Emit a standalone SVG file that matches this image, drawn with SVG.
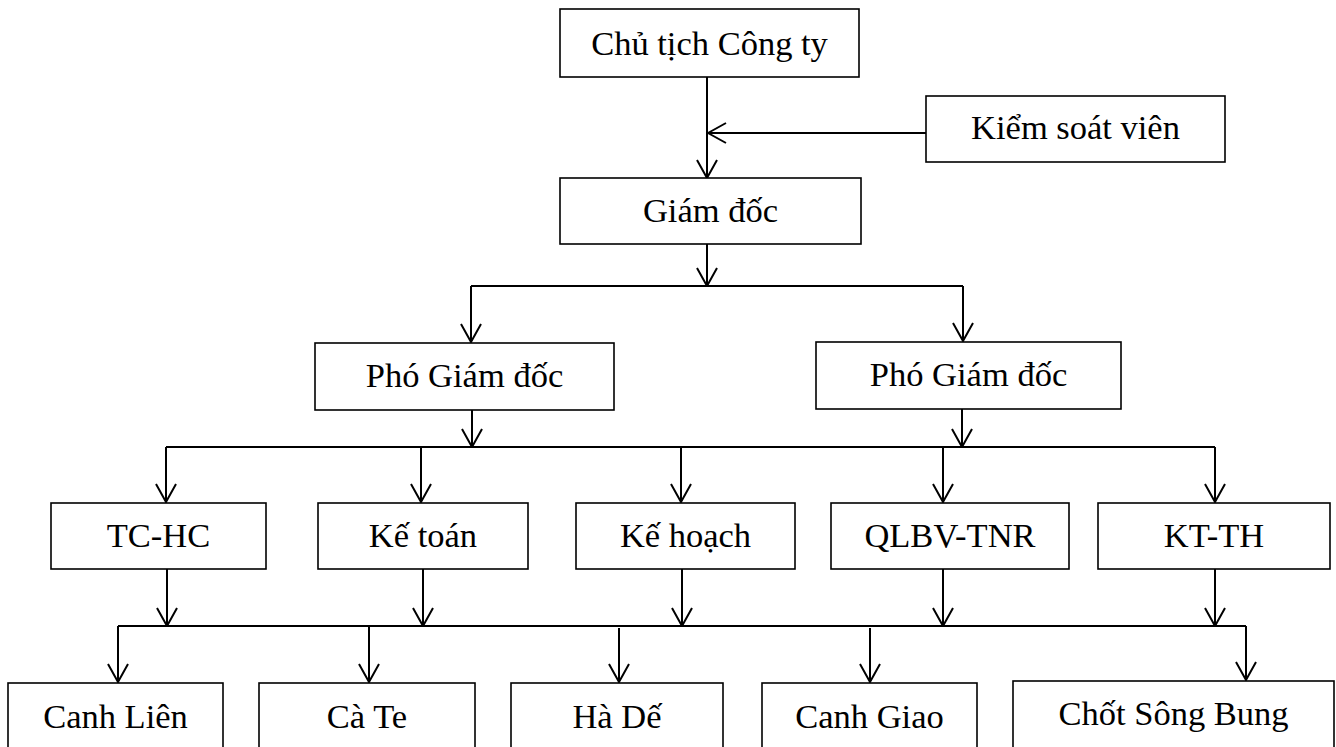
<svg xmlns="http://www.w3.org/2000/svg" width="1336" height="747" viewBox="0 0 1336 747">
<style>
.box{fill:#fff;stroke:#000;stroke-width:1.6}
.lbl{font-size:34.5px;fill:#000;text-anchor:middle}
.ln{fill:none;stroke:#000;stroke-width:2}
.ar{fill:none;stroke:#000;stroke-width:2;marker-end:url(#arr)}
</style>
<defs>
<marker id="arr" markerUnits="userSpaceOnUse" viewBox="0 0 20 24" markerWidth="20" markerHeight="24" refX="19" refY="12" orient="auto">
<path d="M1,2 L19,12 L1,22" fill="none" stroke="#000" stroke-width="2"/>
</marker>
</defs>
<rect width="1336" height="747" fill="#fff"/>
<g id="connectors">
<path class="ar" d="M707,77 V178"/>
<path class="ar" d="M927,133 H708"/>
<path class="ar" d="M707,244 V286"/>
<path class="ln" d="M471,286 H963"/>
<path class="ar" d="M471,286 V342"/>
<path class="ar" d="M963,286 V341"/>
<path class="ar" d="M472,410 V447"/>
<path class="ar" d="M962,409 V447"/>
<path class="ln" d="M166,447 H1215"/>
<path class="ar" d="M166,447 V502"/>
<path class="ar" d="M421,447 V502"/>
<path class="ar" d="M681,447 V502"/>
<path class="ar" d="M943,447 V502"/>
<path class="ar" d="M1215,447 V502"/>
<path class="ar" d="M167,569 V626"/>
<path class="ar" d="M423,569 V626"/>
<path class="ar" d="M682,569 V626"/>
<path class="ar" d="M943,569 V626"/>
<path class="ar" d="M1215,569 V626"/>
<path class="ln" d="M118,626 H1246"/>
<path class="ar" d="M118,626 V682"/>
<path class="ar" d="M369,626 V682"/>
<path class="ar" d="M619,628 V682"/>
<path class="ar" d="M870,628 V682"/>
<path class="ar" d="M1246,626 V680"/>
</g>
<g font-family="Liberation Serif, Times New Roman, serif">
<g id="chu-tich"><rect class="box" x="560" y="9" width="299" height="68"/><text class="lbl" x="709.5" y="55">Chủ tịch Công ty</text></g>
<g id="kiem-soat"><rect class="box" x="926" y="96" width="299" height="66"/><text class="lbl" x="1075.5" y="139">Kiểm soát viên</text></g>
<g id="giam-doc"><rect class="box" x="560" y="178" width="301" height="66"/><text class="lbl" x="710.5" y="222">Giám đốc</text></g>
<g id="pgd-1"><rect class="box" x="315" y="343" width="299" height="67"/><text class="lbl" x="464.5" y="387">Phó Giám đốc</text></g>
<g id="pgd-2"><rect class="box" x="816" y="342" width="305" height="67"/><text class="lbl" x="968.5" y="386">Phó Giám đốc</text></g>
<g id="tc-hc"><rect class="box" x="51" y="503" width="215" height="66"/><text class="lbl" x="158.5" y="547">TC-HC</text></g>
<g id="ke-toan"><rect class="box" x="318" y="503" width="210" height="66"/><text class="lbl" x="423" y="547">Kế toán</text></g>
<g id="ke-hoach"><rect class="box" x="576" y="503" width="219" height="66"/><text class="lbl" x="685.5" y="547">Kế hoạch</text></g>
<g id="qlbv-tnr"><rect class="box" x="831" y="503" width="238" height="66"/><text class="lbl" x="950" y="547">QLBV-TNR</text></g>
<g id="kt-th"><rect class="box" x="1098" y="503" width="232" height="66"/><text class="lbl" x="1214" y="547">KT-TH</text></g>
<g id="canh-lien"><rect class="box" x="8" y="683" width="215" height="80"/><text class="lbl" x="115.5" y="728">Canh Liên</text></g>
<g id="ca-te"><rect class="box" x="259" y="683" width="216" height="80"/><text class="lbl" x="367" y="728">Cà Te</text></g>
<g id="ha-de"><rect class="box" x="511" y="683" width="212" height="80"/><text class="lbl" x="617" y="728">Hà Dế</text></g>
<g id="canh-giao"><rect class="box" x="762" y="683" width="215" height="80"/><text class="lbl" x="869.5" y="728">Canh Giao</text></g>
<g id="chot-song-bung"><rect class="box" x="1013" y="681" width="321" height="80"/><text class="lbl" x="1173.5" y="725">Chốt Sông Bung</text></g>
</g>
</svg>
